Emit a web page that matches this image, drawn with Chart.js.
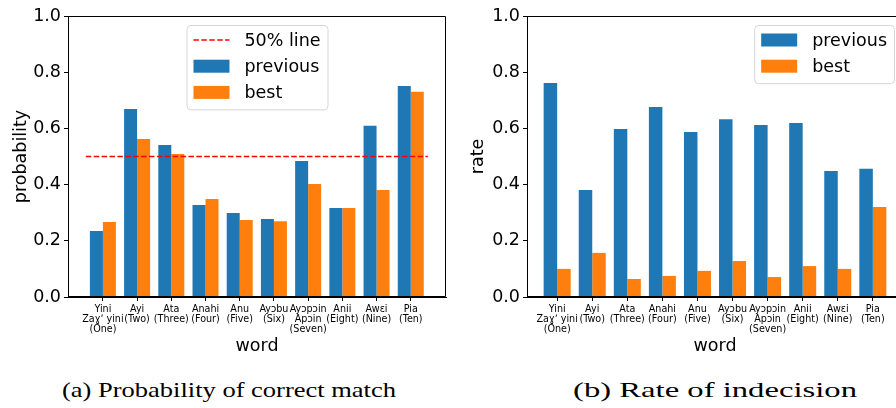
<!DOCTYPE html>
<html><head><meta charset="utf-8">
<script src="https://cdn.jsdelivr.net/npm/chart.js@4"></script>
<style>
html,body{margin:0;padding:0;background:#fff;overflow:hidden;width:896px;height:408px;}
#wrapA{position:absolute;left:0;top:0;width:452px;height:361px;}
#wrapB{position:absolute;left:457px;top:0;width:446px;height:361px;}
.cap{position:absolute;top:378px;font-family:"Liberation Serif","Times New Roman",serif;font-size:22px;line-height:24px;white-space:nowrap;color:#000;transform-origin:0 0;}
</style></head><body>
<div id="wrapA"><canvas id="cA"></canvas></div>
<div id="wrapB"><canvas id="cB"></canvas></div>
<div class="cap" id="capA" data-l="62" data-r="396">(a) Probability of correct match</div>
<div class="cap" id="capB" data-l="573" data-r="857">(b) Rate of indecision</div>
<script>
// ---------- data ----------
const words = [
  ["Yini", "Zaɣʼ yini", "(One)"],
  ["Ayi", "(Two)"],
  ["Ata", "(Three)"],
  ["Anahi", "(Four)"],
  ["Anu", "(Five)"],
  ["Ayɔbu", "(Six)"],
  ["Ayɔpɔin", "Apɔin", "(Seven)"],
  ["Anii", "(Eight)"],
  ["Awɛi", "(Nine)"],
  ["Pia", "(Ten)"]
];
const probPrevious = [0.235, 0.669, 0.541, 0.327, 0.299, 0.278, 0.484, 0.317, 0.609, 0.751];
const probBest     = [0.267, 0.562, 0.509, 0.349, 0.274, 0.270, 0.402, 0.317, 0.381, 0.730];
const ratePrevious = [0.762, 0.381, 0.598, 0.676, 0.587, 0.633, 0.612, 0.619, 0.448, 0.456];
const rateBest     = [0.100, 0.157, 0.064, 0.075, 0.093, 0.128, 0.071, 0.110, 0.100, 0.320];
const thresholdValue = 0.5;
const thresholdSpan = [-0.5, 9.5];
const yTicks = [0, 0.2, 0.4, 0.6, 0.8, 1.0];

// ---------- styles ----------
const BLUE = '#1f77b4', ORANGE = '#ff7f0e', RED = '#ff0000';
const FONT = 'DejaVu Sans';
const BIG = 17.5;
Chart.defaults.font.family = FONT;
Chart.defaults.color = '#000';

const toXY = arr => arr.map((v, i) => ({x: i, y: v}));

const framePlugin = {
  id: 'frame',
  afterDatasetsDraw(chart) {
    const {ctx, chartArea: a} = chart;
    ctx.save();
    ctx.strokeStyle = '#000';
    ctx.lineWidth = 1;
    ctx.beginPath();
    const l = Math.round(a.left) + 0.5, t = Math.round(a.top) + 0.5, r = Math.round(a.right) - 0.5, b = Math.round(a.bottom) - 0.5;
    ctx.moveTo(l, b); ctx.lineTo(l, t); ctx.lineTo(r, t); ctx.lineTo(r, b); ctx.lineTo(l, b);
    ctx.stroke();
    ctx.restore();
  }
};

const boxLegend = {
  id: 'boxLegend',
  afterDraw(chart, args, opts) {
    const {ctx, chartArea: a} = chart;
    const ds = chart.data.datasets;
    ctx.save();
    ctx.font = BIG + 'px "' + FONT + '"';
    let tw = 0;
    ds.forEach(d => { tw = Math.max(tw, ctx.measureText(d.label).width); });
    const pad = 7, hw = 36, gap = 15, step = 26.2;
    const w = pad + hw + gap + tw + pad;
    const h = 15 + (ds.length - 1) * step + 17;
    let x0;
    if (opts.anchor === 'center') x0 = (a.left + a.right) / 2 - w / 2;
    else x0 = a.right - 9 - w;
    const y0 = a.top + 9;
    ctx.beginPath();
    if (ctx.roundRect) ctx.roundRect(x0 + 0.5, y0 + 0.5, w, h, 4); else ctx.rect(x0 + 0.5, y0 + 0.5, w, h);
    ctx.fillStyle = 'rgba(255,255,255,0.8)';
    ctx.fill();
    ctx.strokeStyle = '#d6d6d6';
    ctx.lineWidth = 1;
    ctx.stroke();
    ds.forEach((d, i) => {
      const cy = y0 + 15 + i * step;
      const hx = x0 + pad;
      if (d.type === 'line') {
        ctx.save();
        ctx.strokeStyle = d.borderColor;
        ctx.lineWidth = d.borderWidth;
        ctx.setLineDash(d.borderDash);
        ctx.beginPath();
        ctx.moveTo(hx, cy); ctx.lineTo(hx + hw, cy);
        ctx.stroke();
        ctx.restore();
      } else {
        ctx.fillStyle = d.backgroundColor;
        ctx.fillRect(hx, cy - 6.5, hw, 13);
      }
      ctx.fillStyle = '#000';
      ctx.textBaseline = 'middle';
      ctx.textAlign = 'left';
      ctx.fillText(d.label, hx + hw + gap, cy + 1);
    });
    ctx.restore();
  }
};

function makeChart(id, datasets, yTitle, xr, yAxisWidth, catPct, legendAnchor, padRight) {
  return new Chart(document.getElementById(id), {
    type: 'bar',
    data: {datasets},
    options: {
      responsive: true,
      maintainAspectRatio: false,
      animation: false,
      events: [],
      layout: {padding: {top: 16, right: padRight, left: 0, bottom: 0}},
      datasets: {bar: {categoryPercentage: catPct, barPercentage: 1.0, borderWidth: 0}},
      plugins: {legend: {display: false}, tooltip: {enabled: false}, boxLegend: {anchor: legendAnchor}},
      scales: {
        x: {
          type: 'linear',
          min: xr[0], max: xr[1],
          offset: false,
          afterBuildTicks: s => { s.ticks = words.map((_, i) => ({value: i})); },
          ticks: {
            autoSkip: false, maxRotation: 0, minRotation: 0, padding: 3,
            callback: v => words[v],
            font: {size: 9.6, lineHeight: 1.08}
          },
          grid: {display: true, offset: false, drawOnChartArea: false, drawTicks: true, tickLength: 4, tickColor: '#000'},
          border: {display: true, color: '#000', width: 1},
          title: {display: true, text: 'word', font: {size: BIG, lineHeight: 1.2}, padding: {top: 4, bottom: 4}},
          afterFit: s => { s.height = 64; }
        },
        y: {
          min: 0, max: 1,
          afterBuildTicks: s => { s.ticks = yTicks.map(v => ({value: v})); },
          ticks: {callback: v => v.toFixed(1), font: {size: BIG}, padding: 3},
          grid: {display: true, drawOnChartArea: false, drawTicks: true, tickLength: 4, tickColor: '#000'},
          border: {display: true, color: '#000', width: 1},
          title: {display: true, text: yTitle, font: {size: BIG, lineHeight: 1.2}, padding: {top: 11, bottom: 0}},
          afterFit: s => { s.width = yAxisWidth; }
        }
      }
    },
    plugins: [framePlugin, boxLegend]
  });
}

makeChart('cA', [
  {type: 'line', label: '50% line', data: thresholdSpan.map(x => ({x, y: thresholdValue})),
   borderColor: RED, borderWidth: 1.5, borderDash: [5.5, 2.4], pointRadius: 0, fill: false, order: 0},
  {label: 'previous', data: toXY(probPrevious), backgroundColor: BLUE, order: 1},
  {label: 'best', data: toXY(probBest), backgroundColor: ORANGE, order: 1}
], 'probability', [-1.02, 10.03], 68, 0.76, 'center', 6);

makeChart('cB', [
  {label: 'previous', data: toXY(ratePrevious), backgroundColor: BLUE},
  {label: 'best', data: toXY(rateBest), backgroundColor: ORANGE}
], 'rate', [-0.86, 9.86], 70, 0.77, 'right', 0);

// fit captions to their spans
document.querySelectorAll('.cap').forEach(el => {
  const l = +el.dataset.l, r = +el.dataset.r;
  const w = el.getBoundingClientRect().width;
  el.style.left = l + 'px';
  el.style.transform = 'scaleX(' + ((r - l) / w) + ')';
});
</script>
</body></html>
